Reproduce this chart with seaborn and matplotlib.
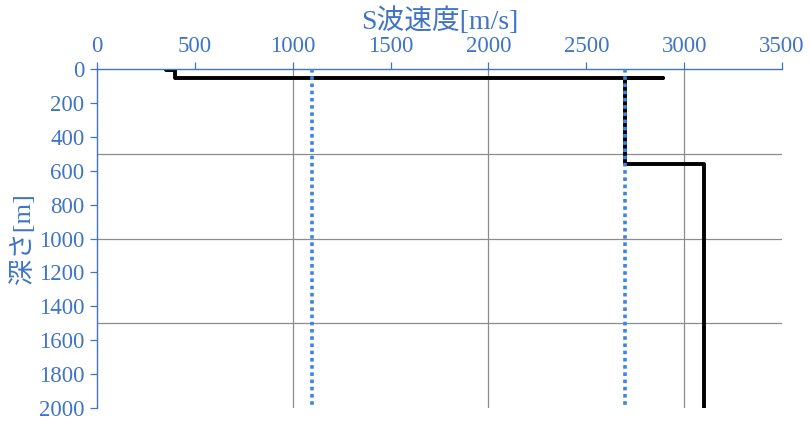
import seaborn as sns
import matplotlib.pyplot as plt
import pandas as pd
from matplotlib.ticker import MultipleLocator

# S-wave velocity profile (step line, drawn in order)
vs_profile = [350, 400, 400, 2890, 2700, 2700, 3100, 3100]
depth_profile = [8, 8, 55, 55, 55, 560, 560, 2000]

# reference velocities (dotted verticals)
ref_vs = [1100, 2700]
ref_depth = [0, 2000]

grid_x = [1000, 2000, 3000]
grid_y = [500, 1000, 1500]

blue_txt = "#3f74c6"
blue_dot = "#3d85e0"
fonts = ["Liberation Serif", "Noto Sans CJK JP"]

sns.set_style("white")
plt.rcParams["font.family"] = fonts

fig = plt.figure(figsize=(8.1, 4.26), dpi=100)
ax = fig.add_axes([0.1198, 0.042, 0.8456, 0.796])

for gx in grid_x:
    ax.axvline(gx, color="#8c8c8c", lw=0.9, zorder=0)
for gy in grid_y:
    ax.axhline(gy, color="#8c8c8c", lw=0.9, zorder=0)

for v in ref_vs:
    ref_df = pd.DataFrame({"vs": [v, v], "depth": ref_depth})
    sns.lineplot(data=ref_df, x="vs", y="depth", sort=False, estimator=None,
                 errorbar=None, ax=ax, color=blue_dot, lw=2.6,
                 linestyle=(0, (1, 1)), zorder=3)

prof_df = pd.DataFrame({"vs": vs_profile, "depth": depth_profile})
sns.lineplot(data=prof_df, x="vs", y="depth", sort=False, estimator=None,
             errorbar=None, ax=ax, color="black", lw=2.8, zorder=2)

ax.set_xlim(0, 3500)
ax.set_ylim(2000, 0)
ax.xaxis.set_label_position("top")
ax.xaxis.tick_top()
ax.xaxis.set_major_locator(MultipleLocator(500))
ax.yaxis.set_major_locator(MultipleLocator(200))

ax.set_xlabel("S波速度[m/s]", color=blue_txt, fontsize=20, labelpad=5, family=fonts)
ax.set_ylabel("深さ[m]", color=blue_txt, fontsize=19, labelpad=3, family=fonts)

ax.tick_params(axis="both", which="major", colors=blue_txt, labelsize=16.5,
               length=5, width=0.9, direction="out", pad=4)
ax.tick_params(axis="x", top=True, bottom=False)
ax.tick_params(axis="y", left=True, right=False)

for side in ["right", "bottom"]:
    ax.spines[side].set_visible(False)
for side in ["left", "top"]:
    ax.spines[side].set_color(blue_txt)
    ax.spines[side].set_linewidth(1.0)

fig.savefig("out.png", dpi=100)
